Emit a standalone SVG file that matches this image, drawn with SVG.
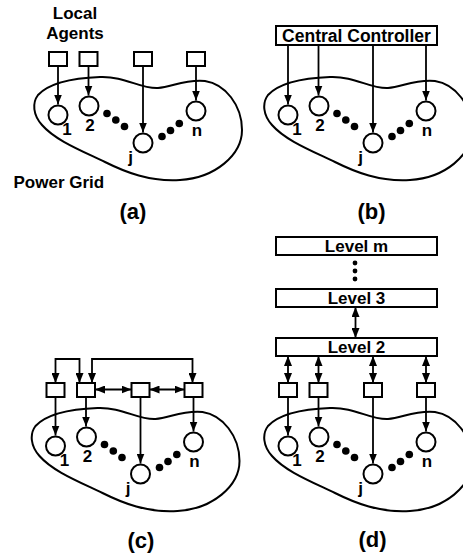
<svg xmlns="http://www.w3.org/2000/svg" width="463" height="554" viewBox="0 0 463 554">
<style>
.ln{fill:none;stroke:#000;stroke-width:1.8}
.bx{fill:#fff;stroke:#000;stroke-width:2}
.nd{fill:#fff;stroke:#000;stroke-width:2}
.blob{fill:none;stroke:#000;stroke-width:2}
.dot{fill:#000}
.t{font-family:"Liberation Sans",Arial,sans-serif;font-weight:bold;font-size:17px;fill:#000}
.cap{font-family:"Liberation Sans",Arial,sans-serif;font-weight:bold;font-size:22px;fill:#000;text-anchor:middle}
.m{text-anchor:middle}
</style>
<defs>
<marker id="ah" viewBox="0 0 10 8" markerWidth="10" markerHeight="8" refX="10" refY="4" orient="auto-start-reverse" markerUnits="userSpaceOnUse"><path d="M0,0 L10,4 L0,8 z" fill="#000"/></marker>
<g id="grid">
<path class="blob" d="M38,95 C50,82 75,78 100,77 C125,76 140,89 158,88 C172,87 185,79 205,81 C225,84 242,105 242,130 C242,155 215,178 180,180 C150,182 125,172 105,162 C80,150 55,140 42,125 C33,115 32,103 38,95 Z"/>
<circle class="nd" cx="58" cy="115" r="9.5"/>
<circle class="nd" cx="89" cy="106" r="9.5"/>
<circle class="nd" cx="143" cy="143" r="9.5"/>
<circle class="nd" cx="196" cy="111" r="9.5"/>
<circle class="dot" cx="107" cy="113.5" r="3.8"/>
<circle class="dot" cx="115.8" cy="120" r="3.8"/>
<circle class="dot" cx="124.5" cy="126.5" r="3.8"/>
<circle class="dot" cx="162" cy="136.5" r="3.8"/>
<circle class="dot" cx="170.5" cy="130.5" r="3.8"/>
<circle class="dot" cx="179.3" cy="123.5" r="3.8"/>
<text class="t m" x="67" y="135">1</text>
<text class="t m" x="90" y="131">2</text>
<text class="t m" x="130.5" y="163">j</text>
<text class="t m" x="197" y="136">n</text>
</g>
<g id="agents">
<rect class="bx" x="49" y="52" width="18" height="14"/>
<rect class="bx" x="79.5" y="52" width="18" height="14"/>
<rect class="bx" x="134" y="52" width="18" height="14"/>
<rect class="bx" x="187" y="52" width="18" height="14"/>
</g>
<g id="downlinks">
<line class="ln" x1="58" y1="66" x2="58" y2="104.5" marker-end="url(#ah)"/>
<line class="ln" x1="88.5" y1="66" x2="88.5" y2="95.5" marker-end="url(#ah)"/>
<line class="ln" x1="143" y1="66" x2="143" y2="132.5" marker-end="url(#ah)"/>
<line class="ln" x1="196" y1="66" x2="196" y2="100.5" marker-end="url(#ah)"/>
</g>
</defs>

<!-- Panel (a) -->
<g id="panel-a">
<g id="a-grid"><use href="#grid"/></g>
<g id="a-agents"><use href="#agents"/></g>
<g id="a-connectors"><use href="#downlinks"/></g>
<text class="t m" x="75" y="19">Local</text>
<text class="t m" x="75" y="39">Agents</text>
<text class="t" x="13.5" y="188">Power Grid</text>
<text class="cap" x="133" y="219">(a)</text>
</g>

<!-- Panel (b) -->
<g id="panel-b">
<g id="b-grid" transform="translate(230,0)"><use href="#grid"/></g>
<g id="b-controller">
<rect class="bx" x="276" y="26" width="161" height="19"/>
<text class="t m" x="356.5" y="42.3" style="font-size:17.5px">Central Controller</text>
</g>
<g id="b-connectors">
<line class="ln" x1="288" y1="45" x2="288" y2="104.5" marker-end="url(#ah)"/>
<line class="ln" x1="318.5" y1="45" x2="318.5" y2="95.5" marker-end="url(#ah)"/>
<line class="ln" x1="373" y1="45" x2="373" y2="132.5" marker-end="url(#ah)"/>
<line class="ln" x1="426" y1="45" x2="426" y2="100.5" marker-end="url(#ah)"/>
</g>
<text class="cap" x="371.5" y="219">(b)</text>
</g>

<!-- Panel (c) -->
<g id="panel-c">
<g transform="translate(-2.5,331)">
<g id="c-grid"><use href="#grid"/></g>
<g id="c-agents"><use href="#agents"/></g>
<g id="c-connectors">
<use href="#downlinks"/>
<polyline class="ln" points="58,52 58,28 82,28 82,52" marker-start="url(#ah)" marker-end="url(#ah)"/>
<polyline class="ln" points="94.5,52 94.5,28 195,28 195,52" marker-start="url(#ah)" marker-end="url(#ah)"/>
<line class="ln" x1="97.5" y1="58.5" x2="134" y2="58.5" marker-start="url(#ah)" marker-end="url(#ah)"/>
<line class="ln" x1="152" y1="58.5" x2="187" y2="58.5" marker-start="url(#ah)" marker-end="url(#ah)"/>
</g>
</g>
<text class="cap" x="141" y="548">(c)</text>
</g>

<!-- Panel (d) -->
<g id="panel-d">
<g transform="translate(230,331)">
<g id="d-grid"><use href="#grid"/></g>
<g id="d-agents"><use href="#agents"/></g>
<g id="d-downlinks"><use href="#downlinks"/></g>
</g>
<g id="d-level-m">
<rect class="bx" x="276" y="237" width="161" height="18"/>
<text class="t m" x="356.5" y="252">Level m</text>
</g>
<g id="d-level-3">
<rect class="bx" x="276" y="289" width="161" height="18"/>
<text class="t m" x="356.5" y="304">Level 3</text>
</g>
<g id="d-level-2">
<rect class="bx" x="276" y="338" width="161" height="18"/>
<text class="t m" x="356.5" y="353">Level 2</text>
</g>
<g id="d-vdots">
<circle class="dot" cx="355" cy="263" r="2.4"/>
<circle class="dot" cx="355" cy="271" r="2.4"/>
<circle class="dot" cx="355" cy="279" r="2.4"/>
</g>
<g id="d-connectors">
<line class="ln" x1="355.5" y1="307" x2="355.5" y2="338" marker-start="url(#ah)" marker-end="url(#ah)"/>
<line class="ln" x1="288" y1="356" x2="288" y2="383" marker-start="url(#ah)" marker-end="url(#ah)"/>
<line class="ln" x1="318.5" y1="356" x2="318.5" y2="383" marker-start="url(#ah)" marker-end="url(#ah)"/>
<line class="ln" x1="373" y1="356" x2="373" y2="383" marker-start="url(#ah)" marker-end="url(#ah)"/>
<line class="ln" x1="426" y1="356" x2="426" y2="383" marker-start="url(#ah)" marker-end="url(#ah)"/>
</g>
<text class="cap" x="372.5" y="547">(d)</text>
</g>
</svg>
